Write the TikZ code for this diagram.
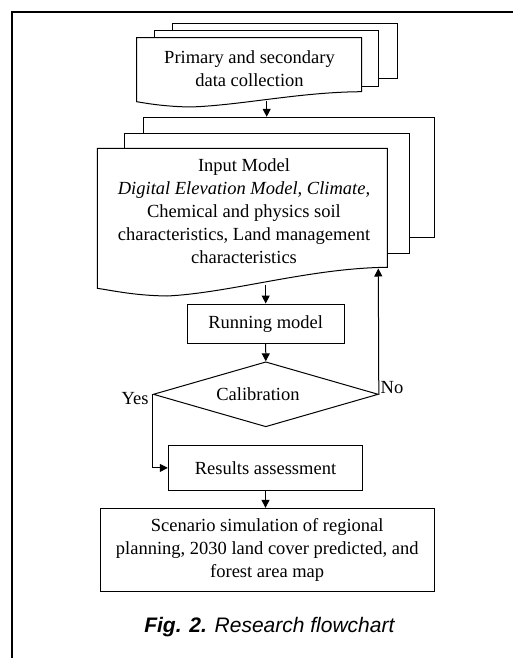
\documentclass[tikz,border=0pt]{standalone}
\usepackage{fontspec}
\setmainfont{Liberation Serif}
\newfontfamily\capfont{Liberation Sans}
\usetikzlibrary{shapes.geometric,arrows.meta,calc}
\begin{document}
\begin{tikzpicture}[x=1pt,y=-1pt,
  shp/.style={draw,line width=1pt,fill=white},
  sheet/.style={shp,rectangle,inner sep=0pt},
  boxn/.style={draw,line width=1pt,rectangle,inner sep=0pt,align=center},
  txt/.style={align=center,inner sep=0pt,font=\fontsize{18.5}{23}\selectfont},
  arr/.style={line width=1pt,-{Triangle[length=8pt,width=8pt]}},
  lbl/.style={inner sep=0pt,font=\fontsize{18.5}{20}\selectfont}]
\useasboundingbox (0,0) rectangle (513,658);
\fill[white] (0,0) rectangle (513,658);
% frame
\draw[line width=2pt] (11.7,658) -- (11.7,12) -- (513,12);
% stack 1
\node[sheet,minimum width=224.3pt,minimum height=55.7pt] (s1b) at (284.85,51.15) {};
\node[sheet,minimum width=224pt,minimum height=56.4pt] (s1m) at (266.7,58.5) {};
\draw[shp] (136.7,37.7) -- (361.7,37.7) -- (361.7,91.7)
  .. controls (300,92) and (240,105.5) .. (190,107)
  .. controls (166,106.5) and (150,104) .. (136.7,101.7) -- cycle;
\node[txt] (t1) at (249.5,69) {Primary and secondary\\data collection};
\coordinate (d1b) at (266.7,101);
% stack 2
\node[sheet,minimum width=291pt,minimum height=120pt] (s2b) at (288.8,177.3) {};
\node[sheet,minimum width=285.3pt,minimum height=120pt] (s2m) at (266.65,193.3) {};
\draw[shp] (97.3,148.3) -- (387.3,148.3) -- (387.3,267.3)
  .. controls (310,268) and (230,293) .. (167,296)
  .. controls (135,295.5) and (115,291) .. (97.3,288.3) -- cycle;
\node[txt] (t2) at (244,211.5) {Input Model\\\textit{Digital Elevation Model, Climate,}\\Chemical and physics soil\\characteristics, Land management\\characteristics};
\coordinate (d2b) at (265.7,284.5);
\coordinate (d2no) at (378.3,268.5);
% boxes
\node[boxn,txt,draw,minimum width=156.7pt,minimum height=39.3pt] (run) at (265.7,323.7) {Running model};
\node[draw,line width=1pt,diamond,aspect=3.46,minimum width=225pt,minimum height=65pt,inner sep=0pt] (cal) at (265.8,394.3) {};
\node[txt] (calt) at (258,394.3) {Calibration};
\node[boxn,txt,draw,minimum width=194.4pt,minimum height=45.7pt] (res) at (265.5,467.9) {Results assessment};
\node[boxn,txt,draw,minimum width=334.3pt,minimum height=82.7pt] (scn) at (267.2,549.7) {Scenario simulation of regional\\planning, 2030 land cover predicted, and\\forest area map};
\node[inner sep=0pt,font=\capfont\fontsize{21}{24}\selectfont] (cap) at (269.7,626.7) {\textbf{\textit{Fig. 2.}} \textit{Research flowchart}};
% connectors
\draw[arr] (d1b) -- (d1b |- s2b.north);
\draw[arr] (d2b) -- (d2b |- run.north);
\draw[arr] (run.south) -- (cal.north);
\draw[arr] (cal.east) -- (d2no);
\draw[arr] (cal.west) -- (cal.west |- res.west) -- (res.west);
\draw[arr] (res.south) -- (res.south |- scn.north);
\node[lbl,anchor=west] (no) at (380.5,388) {No};
\node[lbl] (yes) at (135,399) {Yes};
\end{tikzpicture}
\end{document}
